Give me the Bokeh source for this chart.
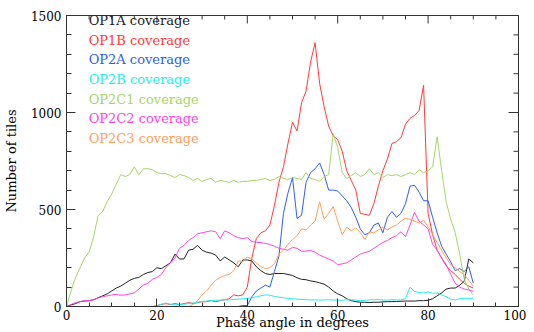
import math
from bokeh.plotting import figure
from bokeh.models import Range1d, SingleIntervalTicker, Label
from bokeh.embed import file_html
from bokeh.resources import INLINE

phase = list(range(0, 91))

op1a = [0, 8, 15, 25, 28, 30, 35, 45, 55, 65, 80, 95, 105, 120, 135, 145, 150, 165, 175, 180,
        200, 195, 210, 225, 270, 245, 245, 290, 295, 315, 290, 280, 275, 265, 235, 255, 240, 225, 205, 240,
        240, 235, 205, 185, 170, 165, 170, 170, 170, 165, 160, 148, 140, 138, 132, 128, 122, 115, 100, 80,
        65, 55, 40, 30, 25, 22, 22, 20, 22, 22, 24, 25, 25, 26, 27, 28, 28, 28, 30, 30,
        32, 40, 55, 70, 90, 95, 95, 110, 130, 245, 225]

op1b = [0] * 20 + [5, 10, 15, 10, 15, 10, 15, 20, 15, 20, 25, 25, 30, 25, 30, 35, 40, 60, 55, 60,
        100, 250, 350, 380, 390, 420, 520, 640, 720, 840, 950, 905, 1050, 1110, 1260, 1360, 1150, 1030, 930, 880,
        860, 800, 700, 650, 600, 480, 475, 470, 530, 620, 700, 760, 840, 850, 870, 940, 970, 985, 1010, 1140,
        480, 370, 290, 250, 210, 185, 165, 140, 120, 105, 95]

op2a = [0] * 39 + [5, 5, 50, 80, 95, 110, 100, 180, 260, 480, 585, 665, 454, 470, 640, 690, 710, 740, 680, 600, 600,
        595, 570, 545, 510, 460, 400, 370, 380, 420, 430, 380, 460, 490, 460, 480, 530, 620, 625, 590, 545,
        545, 460, 380, 310, 270, 230, 185, 195, 180, 205, 120]

op2b = [0] * 20 + [3, 12, 18, 12, 8, 10, 12, 15, 18, 22, 26, 28, 30, 32, 33, 34, 34, 36, 38, 40,
        42, 45, 50, 55, 60, 58, 52, 48, 45, 42, 40, 38, 36, 35, 34, 34, 33, 34, 35, 34,
        33, 32, 34, 35, 33, 30, 32, 34, 35, 36, 34, 33, 35, 34, 34, 40, 100, 78, 72, 70,
        75, 68, 70, 60, 50, 38, 34, 40, 42, 42, 42]

op2c1 = [0, 80, 150, 200, 250, 280, 360, 470, 490, 540, 580, 630, 680, 670, 680, 720, 680, 710, 710, 705,
         690, 685, 685, 675, 665, 680, 675, 665, 650, 660, 645, 655, 660, 640, 650, 645, 640, 650, 640, 645,
         645, 650, 650, 655, 660, 650, 655, 670, 660, 655, 665, 660, 655, 690, 660, 655, 645, 670, 680, 890,
         820, 690, 660, 675, 690, 670, 680, 710, 680, 690, 665, 680, 675, 680, 670, 680, 690, 680, 705, 690,
         700, 720, 875, 700, 540, 450, 380, 270, 140, 90, 60]

op2c2 = [0, 10, 20, 25, 30, 30, 35, 45, 50, 55, 60, 62, 58, 60, 65, 70, 90, 110, 120, 140,
         150, 165, 200, 225, 250, 300, 315, 340, 355, 375, 380, 385, 390, 385, 350, 390, 380, 365, 355, 350,
         355, 335, 330, 330, 325, 320, 310, 300, 295, 290, 305, 300, 285, 285, 290, 280, 265, 255, 245, 235,
         215, 220, 225, 240, 255, 270, 278, 285, 300, 315, 330, 340, 355, 365, 385, 360, 420, 485, 440, 420,
         400, 320, 290, 250, 215, 165, 120, 100, 90, 85, 78]

op2c3 = [0] * 28 + [10, 30, 60, 80, 110, 135, 150, 160, 165, 185, 235, 230,
         255, 245, 225, 205, 195, 200, 220, 270, 290, 320, 345, 365, 400, 395, 420, 440, 540, 450, 480, 515,
         440, 370, 410, 390, 405, 380, 345, 385, 380, 395, 410, 395, 410, 420, 440, 455, 450, 440, 430, 445,
         410, 370, 330, 290, 250, 215, 200, 180, 165, 135, 105]

names = ["OP1A coverage", "OP1B coverage", "OP2A coverage", "OP2B coverage",
         "OP2C1 coverage", "OP2C2 coverage", "OP2C3 coverage"]
colors = ["#222222", "#ff3a3a", "#2f5cf0", "#22eeee", "#a8d468", "#ff44e8", "#ffa060"]
series = [op1a, op1b, op2a, op2b, op2c1, op2c2, op2c3]

x_major = list(range(0, 101, 20))
x_minor = [v for v in range(0, 101, 5) if v % 20]
y_major = list(range(0, 1501, 500))
y_minor = [v for v in range(0, 1501, 100) if v % 500]

FONT = "DejaVu Serif"
AX = "#333333"

p = figure(width=526, height=332, output_backend="svg", toolbar_location=None,
           x_range=Range1d(0, 100), y_range=Range1d(0, 1500),
           min_border_left=64, min_border_right=8, min_border_top=15, min_border_bottom=20,
           x_axis_label="Phase angle in degrees", y_axis_label="Number of tiles")
p.grid.visible = False
p.outline_line_color = AX
p.background_fill_color = "white"
p.border_fill_color = "white"

for ys, c in zip(series, colors):
    p.line(phase, ys, line_color=c, line_width=1)

def style(ax, major, minor):
    ax.major_tick_in = major
    ax.major_tick_out = 0
    ax.minor_tick_in = minor
    ax.minor_tick_out = 0
    ax.axis_line_color = AX
    ax.major_tick_line_color = AX
    ax.minor_tick_line_color = AX
    ax.major_label_text_font = FONT
    ax.major_label_text_font_size = "12px"
    ax.major_label_text_color = "black"
    ax.axis_label_text_font = FONT
    ax.axis_label_text_font_size = "13px"
    ax.axis_label_text_font_style = "normal"
    ax.axis_label_text_color = "black"

p.xaxis.ticker = SingleIntervalTicker(interval=20, num_minor_ticks=4)
p.yaxis.ticker = SingleIntervalTicker(interval=500, num_minor_ticks=5)
style(p.xaxis[0], 8, 4)
style(p.yaxis[0], 9, 5)
p.xaxis.major_label_standoff = 3
p.xaxis.axis_label_standoff = -8
p.yaxis.major_label_standoff = 5
p.yaxis.axis_label_standoff = 9

# ticks on the top and right edges of the box
p.ray(x=x_major, y=[1500] * len(x_major), length=8, angle=-math.pi / 2,
      length_units="screen", line_color=AX, line_width=1)
p.ray(x=x_minor, y=[1500] * len(x_minor), length=4, angle=-math.pi / 2,
      length_units="screen", line_color=AX, line_width=1)
p.ray(x=[100] * len(y_major), y=y_major, length=10, angle=math.pi,
      length_units="screen", line_color=AX, line_width=1)
p.ray(x=[100] * len(y_minor), y=y_minor, length=5, angle=math.pi,
      length_units="screen", line_color=AX, line_width=1)

for i, (n, c) in enumerate(zip(names, colors)):
    lab = Label(x=4.9, y=1474 - i * 101.3, text=n, text_color=c, text_font=FONT,
                text_font_size="13px", text_baseline="middle", text_align="left")
    p.add_layout(lab)

open("out.html", "w").write(file_html(p, INLINE))
